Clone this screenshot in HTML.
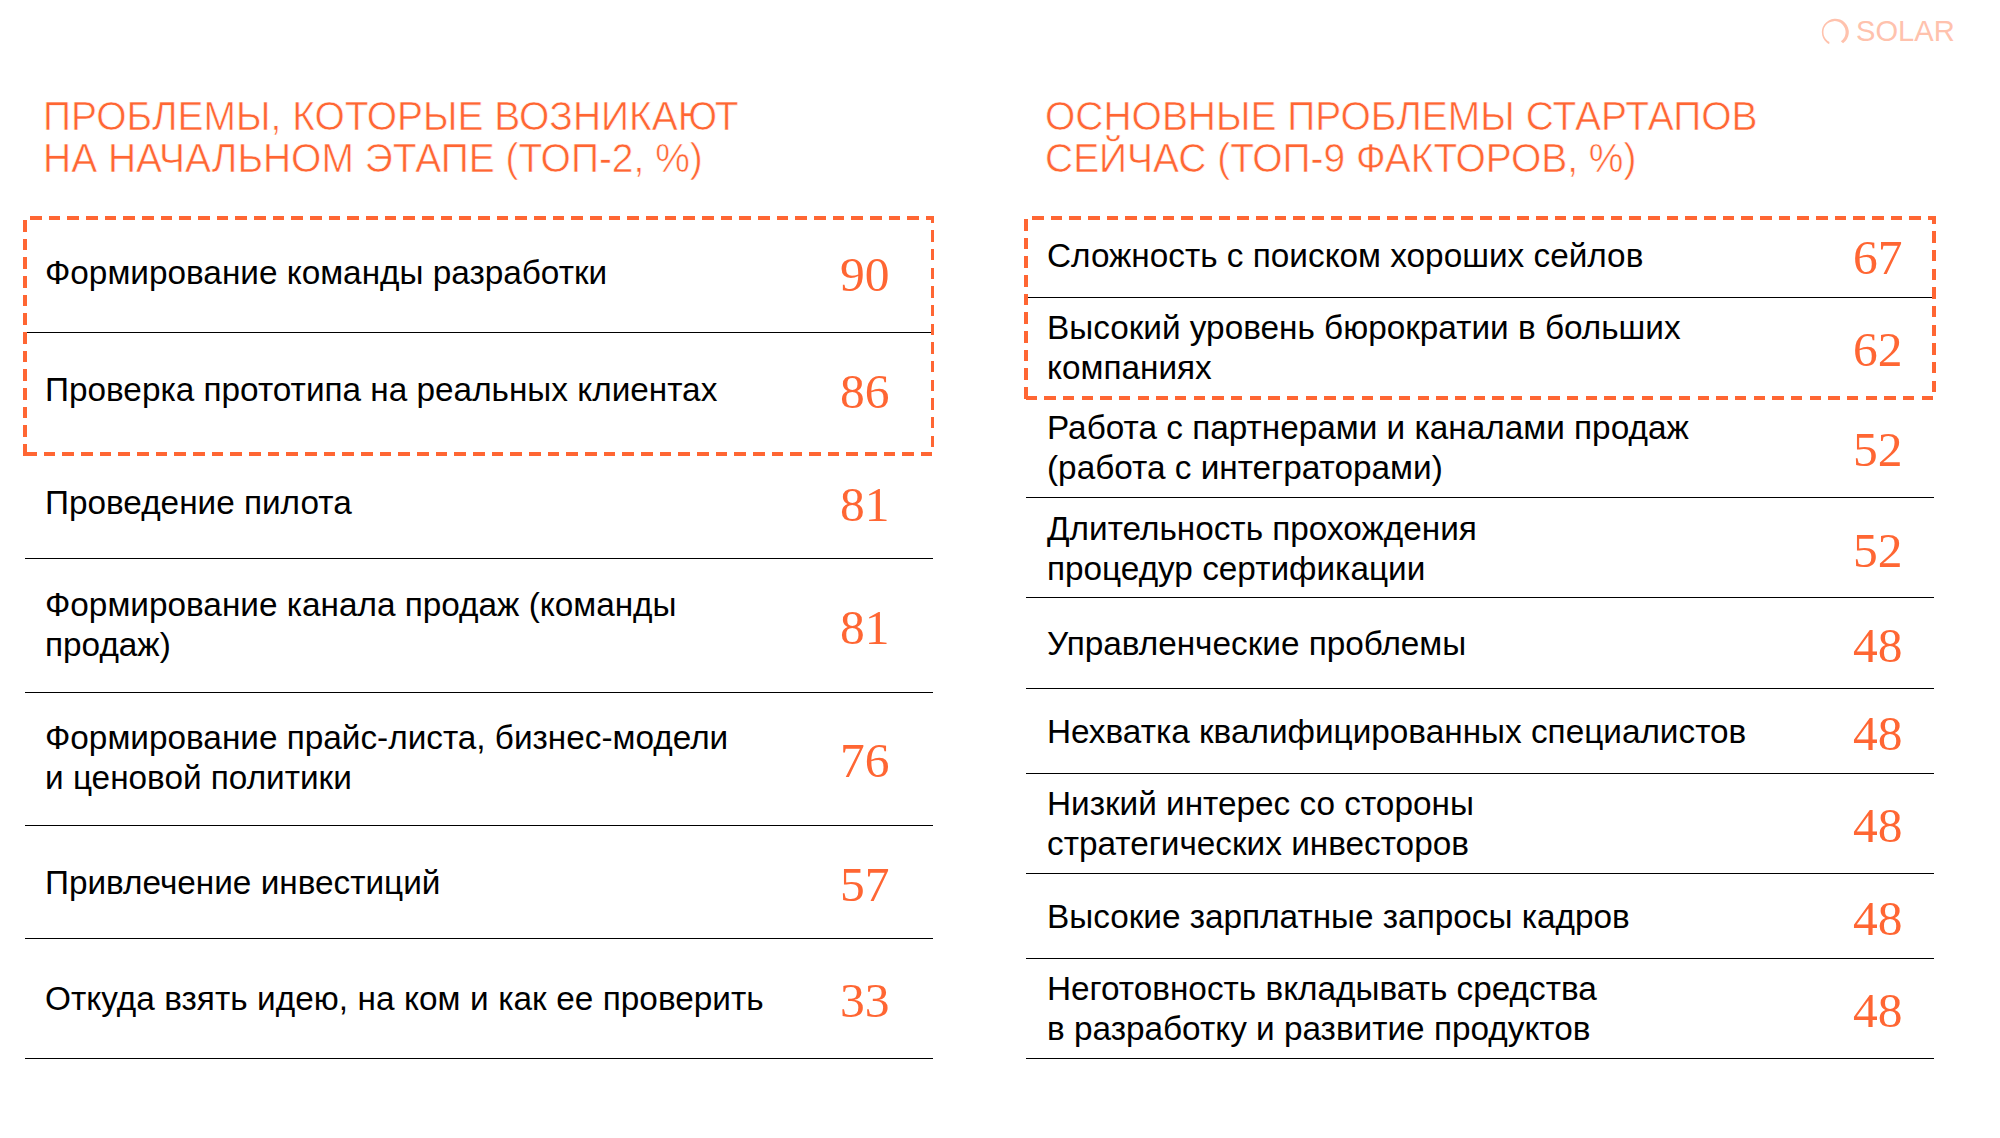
<!DOCTYPE html>
<html><head><meta charset="utf-8"><style>
html,body{margin:0;padding:0;background:#fff;width:2000px;height:1138px;overflow:hidden;position:relative}
.t,.ti,.n,.sol{position:absolute;white-space:nowrap}
.t{font-family:"Liberation Sans",sans-serif;font-size:33.333px;line-height:40px;color:#000}
.ti{font-family:"Liberation Sans",sans-serif;font-size:40px;line-height:42px;color:#FF6633;-webkit-text-stroke:0.6px #fff;transform:scaleX(0.974);transform-origin:0 0}
.n{font-family:"Liberation Serif",serif;font-size:49.5px;line-height:49.5px;color:#FF6633}
.ln{position:absolute;background:#000}
.d{position:absolute;background:#FF6633}
.sol{font-family:"Liberation Sans",sans-serif;font-size:30px;line-height:36px;color:#FFC2AD;transform:scaleX(0.97);transform-origin:0 0}
</style></head><body>
<div class="ti" style="left:42.8px;top:94.74px;">ПРОБЛЕМЫ, КОТОРЫЕ ВОЗНИКАЮТ<br>НА НАЧАЛЬНОМ ЭТАПЕ (ТОП-2, %)</div>
<div class="ti" style="left:1044.8px;top:94.74px;">ОСНОВНЫЕ ПРОБЛЕМЫ СТАРТАПОВ<br>СЕЙЧАС (ТОП-9 ФАКТОРОВ, %)</div>
<div class="t" style="left:45px;top:253.45px;">Формирование команды разработки</div>
<div class="n" style="left:840px;top:249.54px">90</div>
<div class="t" style="left:45px;top:370.45px;">Проверка прототипа на реальных клиентах</div>
<div class="n" style="left:840px;top:366.54px">86</div>
<div class="t" style="left:45px;top:483.45px;">Проведение пилота</div>
<div class="n" style="left:840px;top:479.54px">81</div>
<div class="t" style="left:45px;top:585.45px;">Формирование канала продаж (команды<br>продаж)</div>
<div class="n" style="left:840px;top:602.54px">81</div>
<div class="t" style="left:45px;top:718.45px;">Формирование прайс-листа, бизнес-модели<br>и ценовой политики</div>
<div class="n" style="left:840px;top:735.54px">76</div>
<div class="t" style="left:45px;top:863.45px;">Привлечение инвестиций</div>
<div class="n" style="left:840px;top:859.54px">57</div>
<div class="t" style="left:45px;top:979.45px;word-spacing:0.3px">Откуда взять идею, на ком и как ее проверить</div>
<div class="n" style="left:840px;top:975.54px">33</div>
<div class="ln" style="left:25px;top:331.75px;width:908px;height:1.5px"></div>
<div class="ln" style="left:25px;top:557.55px;width:908px;height:1.5px"></div>
<div class="ln" style="left:25px;top:691.65px;width:908px;height:1.5px"></div>
<div class="ln" style="left:25px;top:824.55px;width:908px;height:1.5px"></div>
<div class="ln" style="left:25px;top:937.65px;width:908px;height:1.5px"></div>
<div class="ln" style="left:25px;top:1057.55px;width:908px;height:1.5px"></div>
<div class="t" style="left:1047px;top:236.45px;">Сложность с поиском хороших сейлов</div>
<div class="n" style="left:1853px;top:232.54px">67</div>
<div class="t" style="left:1047px;top:308.45px;">Высокий уровень бюрократии в больших<br>компаниях</div>
<div class="n" style="left:1853px;top:324.54px">62</div>
<div class="t" style="left:1047px;top:408.45px;">Работа с партнерами и каналами продаж<br>(работа с интеграторами)</div>
<div class="n" style="left:1853px;top:424.54px">52</div>
<div class="t" style="left:1047px;top:509.45px;">Длительность прохождения<br>процедур сертификации</div>
<div class="n" style="left:1853px;top:525.54px">52</div>
<div class="t" style="left:1047px;top:624.45px;">Управленческие проблемы</div>
<div class="n" style="left:1853px;top:620.54px">48</div>
<div class="t" style="left:1047px;top:712.45px;">Нехватка квалифицированных специалистов</div>
<div class="n" style="left:1853px;top:708.54px">48</div>
<div class="t" style="left:1047px;top:784.45px;">Низкий интерес со стороны<br>стратегических инвесторов</div>
<div class="n" style="left:1853px;top:800.54px">48</div>
<div class="t" style="left:1047px;top:897.45px;">Высокие зарплатные запросы кадров</div>
<div class="n" style="left:1853px;top:893.54px">48</div>
<div class="t" style="left:1047px;top:969.45px;">Неготовность вкладывать средства<br>в разработку и развитие продуктов</div>
<div class="n" style="left:1853px;top:985.54px">48</div>
<div class="ln" style="left:1026px;top:296.75px;width:908px;height:1.5px"></div>
<div class="ln" style="left:1026px;top:496.75px;width:908px;height:1.5px"></div>
<div class="ln" style="left:1026px;top:596.75px;width:908px;height:1.5px"></div>
<div class="ln" style="left:1026px;top:687.75px;width:908px;height:1.5px"></div>
<div class="ln" style="left:1026px;top:772.75px;width:908px;height:1.5px"></div>
<div class="ln" style="left:1026px;top:872.95px;width:908px;height:1.5px"></div>
<div class="ln" style="left:1026px;top:957.75px;width:908px;height:1.5px"></div>
<div class="ln" style="left:1026px;top:1057.85px;width:908px;height:1.5px"></div>
<div class="d" style="left:30.00px;top:216.00px;width:11.50px;height:3.60px"></div>
<div class="d" style="left:48.67px;top:216.00px;width:11.50px;height:3.60px"></div>
<div class="d" style="left:67.33px;top:216.00px;width:11.50px;height:3.60px"></div>
<div class="d" style="left:86.00px;top:216.00px;width:11.50px;height:3.60px"></div>
<div class="d" style="left:104.67px;top:216.00px;width:11.50px;height:3.60px"></div>
<div class="d" style="left:123.34px;top:216.00px;width:11.50px;height:3.60px"></div>
<div class="d" style="left:142.00px;top:216.00px;width:11.50px;height:3.60px"></div>
<div class="d" style="left:160.67px;top:216.00px;width:11.50px;height:3.60px"></div>
<div class="d" style="left:179.34px;top:216.00px;width:11.50px;height:3.60px"></div>
<div class="d" style="left:198.00px;top:216.00px;width:11.50px;height:3.60px"></div>
<div class="d" style="left:216.67px;top:216.00px;width:11.50px;height:3.60px"></div>
<div class="d" style="left:235.34px;top:216.00px;width:11.50px;height:3.60px"></div>
<div class="d" style="left:254.00px;top:216.00px;width:11.50px;height:3.60px"></div>
<div class="d" style="left:272.67px;top:216.00px;width:11.50px;height:3.60px"></div>
<div class="d" style="left:291.34px;top:216.00px;width:11.50px;height:3.60px"></div>
<div class="d" style="left:310.01px;top:216.00px;width:11.50px;height:3.60px"></div>
<div class="d" style="left:328.67px;top:216.00px;width:11.50px;height:3.60px"></div>
<div class="d" style="left:347.34px;top:216.00px;width:11.50px;height:3.60px"></div>
<div class="d" style="left:366.01px;top:216.00px;width:11.50px;height:3.60px"></div>
<div class="d" style="left:384.67px;top:216.00px;width:11.50px;height:3.60px"></div>
<div class="d" style="left:403.34px;top:216.00px;width:11.50px;height:3.60px"></div>
<div class="d" style="left:422.01px;top:216.00px;width:11.50px;height:3.60px"></div>
<div class="d" style="left:440.67px;top:216.00px;width:11.50px;height:3.60px"></div>
<div class="d" style="left:459.34px;top:216.00px;width:11.50px;height:3.60px"></div>
<div class="d" style="left:478.01px;top:216.00px;width:11.50px;height:3.60px"></div>
<div class="d" style="left:496.68px;top:216.00px;width:11.50px;height:3.60px"></div>
<div class="d" style="left:515.34px;top:216.00px;width:11.50px;height:3.60px"></div>
<div class="d" style="left:534.01px;top:216.00px;width:11.50px;height:3.60px"></div>
<div class="d" style="left:552.68px;top:216.00px;width:11.50px;height:3.60px"></div>
<div class="d" style="left:571.34px;top:216.00px;width:11.50px;height:3.60px"></div>
<div class="d" style="left:590.01px;top:216.00px;width:11.50px;height:3.60px"></div>
<div class="d" style="left:608.68px;top:216.00px;width:11.50px;height:3.60px"></div>
<div class="d" style="left:627.34px;top:216.00px;width:11.50px;height:3.60px"></div>
<div class="d" style="left:646.01px;top:216.00px;width:11.50px;height:3.60px"></div>
<div class="d" style="left:664.68px;top:216.00px;width:11.50px;height:3.60px"></div>
<div class="d" style="left:683.35px;top:216.00px;width:11.50px;height:3.60px"></div>
<div class="d" style="left:702.01px;top:216.00px;width:11.50px;height:3.60px"></div>
<div class="d" style="left:720.68px;top:216.00px;width:11.50px;height:3.60px"></div>
<div class="d" style="left:739.35px;top:216.00px;width:11.50px;height:3.60px"></div>
<div class="d" style="left:758.01px;top:216.00px;width:11.50px;height:3.60px"></div>
<div class="d" style="left:776.68px;top:216.00px;width:11.50px;height:3.60px"></div>
<div class="d" style="left:795.35px;top:216.00px;width:11.50px;height:3.60px"></div>
<div class="d" style="left:814.01px;top:216.00px;width:11.50px;height:3.60px"></div>
<div class="d" style="left:832.68px;top:216.00px;width:11.50px;height:3.60px"></div>
<div class="d" style="left:851.35px;top:216.00px;width:11.50px;height:3.60px"></div>
<div class="d" style="left:870.02px;top:216.00px;width:11.50px;height:3.60px"></div>
<div class="d" style="left:888.68px;top:216.00px;width:11.50px;height:3.60px"></div>
<div class="d" style="left:907.35px;top:216.00px;width:11.50px;height:3.60px"></div>
<div class="d" style="left:926.02px;top:216.00px;width:8.48px;height:3.60px"></div>
<div class="d" style="left:930.90px;top:216.00px;width:3.60px;height:7.03px"></div>
<div class="d" style="left:930.90px;top:230.20px;width:3.60px;height:11.50px"></div>
<div class="d" style="left:930.90px;top:248.87px;width:3.60px;height:11.50px"></div>
<div class="d" style="left:930.90px;top:267.53px;width:3.60px;height:11.50px"></div>
<div class="d" style="left:930.90px;top:286.20px;width:3.60px;height:11.50px"></div>
<div class="d" style="left:930.90px;top:304.87px;width:3.60px;height:11.50px"></div>
<div class="d" style="left:930.90px;top:323.54px;width:3.60px;height:11.50px"></div>
<div class="d" style="left:930.90px;top:342.20px;width:3.60px;height:11.50px"></div>
<div class="d" style="left:930.90px;top:360.87px;width:3.60px;height:11.50px"></div>
<div class="d" style="left:930.90px;top:379.54px;width:3.60px;height:11.50px"></div>
<div class="d" style="left:930.90px;top:398.20px;width:3.60px;height:11.50px"></div>
<div class="d" style="left:930.90px;top:416.87px;width:3.60px;height:11.50px"></div>
<div class="d" style="left:930.90px;top:435.54px;width:3.60px;height:11.50px"></div>
<div class="d" style="left:25.00px;top:452.40px;width:11.50px;height:3.60px"></div>
<div class="d" style="left:43.67px;top:452.40px;width:11.50px;height:3.60px"></div>
<div class="d" style="left:62.33px;top:452.40px;width:11.50px;height:3.60px"></div>
<div class="d" style="left:81.00px;top:452.40px;width:11.50px;height:3.60px"></div>
<div class="d" style="left:99.67px;top:452.40px;width:11.50px;height:3.60px"></div>
<div class="d" style="left:118.34px;top:452.40px;width:11.50px;height:3.60px"></div>
<div class="d" style="left:137.00px;top:452.40px;width:11.50px;height:3.60px"></div>
<div class="d" style="left:155.67px;top:452.40px;width:11.50px;height:3.60px"></div>
<div class="d" style="left:174.34px;top:452.40px;width:11.50px;height:3.60px"></div>
<div class="d" style="left:193.00px;top:452.40px;width:11.50px;height:3.60px"></div>
<div class="d" style="left:211.67px;top:452.40px;width:11.50px;height:3.60px"></div>
<div class="d" style="left:230.34px;top:452.40px;width:11.50px;height:3.60px"></div>
<div class="d" style="left:249.00px;top:452.40px;width:11.50px;height:3.60px"></div>
<div class="d" style="left:267.67px;top:452.40px;width:11.50px;height:3.60px"></div>
<div class="d" style="left:286.34px;top:452.40px;width:11.50px;height:3.60px"></div>
<div class="d" style="left:305.01px;top:452.40px;width:11.50px;height:3.60px"></div>
<div class="d" style="left:323.67px;top:452.40px;width:11.50px;height:3.60px"></div>
<div class="d" style="left:342.34px;top:452.40px;width:11.50px;height:3.60px"></div>
<div class="d" style="left:361.01px;top:452.40px;width:11.50px;height:3.60px"></div>
<div class="d" style="left:379.67px;top:452.40px;width:11.50px;height:3.60px"></div>
<div class="d" style="left:398.34px;top:452.40px;width:11.50px;height:3.60px"></div>
<div class="d" style="left:417.01px;top:452.40px;width:11.50px;height:3.60px"></div>
<div class="d" style="left:435.67px;top:452.40px;width:11.50px;height:3.60px"></div>
<div class="d" style="left:454.34px;top:452.40px;width:11.50px;height:3.60px"></div>
<div class="d" style="left:473.01px;top:452.40px;width:11.50px;height:3.60px"></div>
<div class="d" style="left:491.68px;top:452.40px;width:11.50px;height:3.60px"></div>
<div class="d" style="left:510.34px;top:452.40px;width:11.50px;height:3.60px"></div>
<div class="d" style="left:529.01px;top:452.40px;width:11.50px;height:3.60px"></div>
<div class="d" style="left:547.68px;top:452.40px;width:11.50px;height:3.60px"></div>
<div class="d" style="left:566.34px;top:452.40px;width:11.50px;height:3.60px"></div>
<div class="d" style="left:585.01px;top:452.40px;width:11.50px;height:3.60px"></div>
<div class="d" style="left:603.68px;top:452.40px;width:11.50px;height:3.60px"></div>
<div class="d" style="left:622.34px;top:452.40px;width:11.50px;height:3.60px"></div>
<div class="d" style="left:641.01px;top:452.40px;width:11.50px;height:3.60px"></div>
<div class="d" style="left:659.68px;top:452.40px;width:11.50px;height:3.60px"></div>
<div class="d" style="left:678.35px;top:452.40px;width:11.50px;height:3.60px"></div>
<div class="d" style="left:697.01px;top:452.40px;width:11.50px;height:3.60px"></div>
<div class="d" style="left:715.68px;top:452.40px;width:11.50px;height:3.60px"></div>
<div class="d" style="left:734.35px;top:452.40px;width:11.50px;height:3.60px"></div>
<div class="d" style="left:753.01px;top:452.40px;width:11.50px;height:3.60px"></div>
<div class="d" style="left:771.68px;top:452.40px;width:11.50px;height:3.60px"></div>
<div class="d" style="left:790.35px;top:452.40px;width:11.50px;height:3.60px"></div>
<div class="d" style="left:809.01px;top:452.40px;width:11.50px;height:3.60px"></div>
<div class="d" style="left:827.68px;top:452.40px;width:11.50px;height:3.60px"></div>
<div class="d" style="left:846.35px;top:452.40px;width:11.50px;height:3.60px"></div>
<div class="d" style="left:865.02px;top:452.40px;width:11.50px;height:3.60px"></div>
<div class="d" style="left:883.68px;top:452.40px;width:11.50px;height:3.60px"></div>
<div class="d" style="left:902.35px;top:452.40px;width:11.50px;height:3.60px"></div>
<div class="d" style="left:921.02px;top:452.40px;width:11.48px;height:3.60px"></div>
<div class="d" style="left:23.00px;top:220.00px;width:3.60px;height:11.50px"></div>
<div class="d" style="left:23.00px;top:238.67px;width:3.60px;height:11.50px"></div>
<div class="d" style="left:23.00px;top:257.33px;width:3.60px;height:11.50px"></div>
<div class="d" style="left:23.00px;top:276.00px;width:3.60px;height:11.50px"></div>
<div class="d" style="left:23.00px;top:294.67px;width:3.60px;height:11.50px"></div>
<div class="d" style="left:23.00px;top:313.34px;width:3.60px;height:11.50px"></div>
<div class="d" style="left:23.00px;top:332.00px;width:3.60px;height:11.50px"></div>
<div class="d" style="left:23.00px;top:350.67px;width:3.60px;height:11.50px"></div>
<div class="d" style="left:23.00px;top:369.34px;width:3.60px;height:11.50px"></div>
<div class="d" style="left:23.00px;top:388.00px;width:3.60px;height:11.50px"></div>
<div class="d" style="left:23.00px;top:406.67px;width:3.60px;height:11.50px"></div>
<div class="d" style="left:23.00px;top:425.34px;width:3.60px;height:11.50px"></div>
<div class="d" style="left:23.00px;top:444.00px;width:3.60px;height:11.50px"></div>
<div class="d" style="left:1032.00px;top:216.00px;width:11.50px;height:3.60px"></div>
<div class="d" style="left:1050.67px;top:216.00px;width:11.50px;height:3.60px"></div>
<div class="d" style="left:1069.33px;top:216.00px;width:11.50px;height:3.60px"></div>
<div class="d" style="left:1088.00px;top:216.00px;width:11.50px;height:3.60px"></div>
<div class="d" style="left:1106.67px;top:216.00px;width:11.50px;height:3.60px"></div>
<div class="d" style="left:1125.33px;top:216.00px;width:11.50px;height:3.60px"></div>
<div class="d" style="left:1144.00px;top:216.00px;width:11.50px;height:3.60px"></div>
<div class="d" style="left:1162.67px;top:216.00px;width:11.50px;height:3.60px"></div>
<div class="d" style="left:1181.34px;top:216.00px;width:11.50px;height:3.60px"></div>
<div class="d" style="left:1200.00px;top:216.00px;width:11.50px;height:3.60px"></div>
<div class="d" style="left:1218.67px;top:216.00px;width:11.50px;height:3.60px"></div>
<div class="d" style="left:1237.34px;top:216.00px;width:11.50px;height:3.60px"></div>
<div class="d" style="left:1256.00px;top:216.00px;width:11.50px;height:3.60px"></div>
<div class="d" style="left:1274.67px;top:216.00px;width:11.50px;height:3.60px"></div>
<div class="d" style="left:1293.34px;top:216.00px;width:11.50px;height:3.60px"></div>
<div class="d" style="left:1312.00px;top:216.00px;width:11.50px;height:3.60px"></div>
<div class="d" style="left:1330.67px;top:216.00px;width:11.50px;height:3.60px"></div>
<div class="d" style="left:1349.34px;top:216.00px;width:11.50px;height:3.60px"></div>
<div class="d" style="left:1368.01px;top:216.00px;width:11.50px;height:3.60px"></div>
<div class="d" style="left:1386.67px;top:216.00px;width:11.50px;height:3.60px"></div>
<div class="d" style="left:1405.34px;top:216.00px;width:11.50px;height:3.60px"></div>
<div class="d" style="left:1424.01px;top:216.00px;width:11.50px;height:3.60px"></div>
<div class="d" style="left:1442.67px;top:216.00px;width:11.50px;height:3.60px"></div>
<div class="d" style="left:1461.34px;top:216.00px;width:11.50px;height:3.60px"></div>
<div class="d" style="left:1480.01px;top:216.00px;width:11.50px;height:3.60px"></div>
<div class="d" style="left:1498.67px;top:216.00px;width:11.50px;height:3.60px"></div>
<div class="d" style="left:1517.34px;top:216.00px;width:11.50px;height:3.60px"></div>
<div class="d" style="left:1536.01px;top:216.00px;width:11.50px;height:3.60px"></div>
<div class="d" style="left:1554.68px;top:216.00px;width:11.50px;height:3.60px"></div>
<div class="d" style="left:1573.34px;top:216.00px;width:11.50px;height:3.60px"></div>
<div class="d" style="left:1592.01px;top:216.00px;width:11.50px;height:3.60px"></div>
<div class="d" style="left:1610.68px;top:216.00px;width:11.50px;height:3.60px"></div>
<div class="d" style="left:1629.34px;top:216.00px;width:11.50px;height:3.60px"></div>
<div class="d" style="left:1648.01px;top:216.00px;width:11.50px;height:3.60px"></div>
<div class="d" style="left:1666.68px;top:216.00px;width:11.50px;height:3.60px"></div>
<div class="d" style="left:1685.34px;top:216.00px;width:11.50px;height:3.60px"></div>
<div class="d" style="left:1704.01px;top:216.00px;width:11.50px;height:3.60px"></div>
<div class="d" style="left:1722.68px;top:216.00px;width:11.50px;height:3.60px"></div>
<div class="d" style="left:1741.35px;top:216.00px;width:11.50px;height:3.60px"></div>
<div class="d" style="left:1760.01px;top:216.00px;width:11.50px;height:3.60px"></div>
<div class="d" style="left:1778.68px;top:216.00px;width:11.50px;height:3.60px"></div>
<div class="d" style="left:1797.35px;top:216.00px;width:11.50px;height:3.60px"></div>
<div class="d" style="left:1816.01px;top:216.00px;width:11.50px;height:3.60px"></div>
<div class="d" style="left:1834.68px;top:216.00px;width:11.50px;height:3.60px"></div>
<div class="d" style="left:1853.35px;top:216.00px;width:11.50px;height:3.60px"></div>
<div class="d" style="left:1872.01px;top:216.00px;width:11.50px;height:3.60px"></div>
<div class="d" style="left:1890.68px;top:216.00px;width:11.50px;height:3.60px"></div>
<div class="d" style="left:1909.35px;top:216.00px;width:11.50px;height:3.60px"></div>
<div class="d" style="left:1928.02px;top:216.00px;width:7.98px;height:3.60px"></div>
<div class="d" style="left:1932.40px;top:216.00px;width:3.60px;height:8.03px"></div>
<div class="d" style="left:1932.40px;top:231.20px;width:3.60px;height:11.50px"></div>
<div class="d" style="left:1932.40px;top:249.87px;width:3.60px;height:11.50px"></div>
<div class="d" style="left:1932.40px;top:268.53px;width:3.60px;height:11.50px"></div>
<div class="d" style="left:1932.40px;top:287.20px;width:3.60px;height:11.50px"></div>
<div class="d" style="left:1932.40px;top:305.87px;width:3.60px;height:11.50px"></div>
<div class="d" style="left:1932.40px;top:324.54px;width:3.60px;height:11.50px"></div>
<div class="d" style="left:1932.40px;top:343.20px;width:3.60px;height:11.50px"></div>
<div class="d" style="left:1932.40px;top:361.87px;width:3.60px;height:11.50px"></div>
<div class="d" style="left:1932.40px;top:380.54px;width:3.60px;height:11.50px"></div>
<div class="d" style="left:1025.50px;top:396.40px;width:11.50px;height:3.60px"></div>
<div class="d" style="left:1044.17px;top:396.40px;width:11.50px;height:3.60px"></div>
<div class="d" style="left:1062.83px;top:396.40px;width:11.50px;height:3.60px"></div>
<div class="d" style="left:1081.50px;top:396.40px;width:11.50px;height:3.60px"></div>
<div class="d" style="left:1100.17px;top:396.40px;width:11.50px;height:3.60px"></div>
<div class="d" style="left:1118.83px;top:396.40px;width:11.50px;height:3.60px"></div>
<div class="d" style="left:1137.50px;top:396.40px;width:11.50px;height:3.60px"></div>
<div class="d" style="left:1156.17px;top:396.40px;width:11.50px;height:3.60px"></div>
<div class="d" style="left:1174.84px;top:396.40px;width:11.50px;height:3.60px"></div>
<div class="d" style="left:1193.50px;top:396.40px;width:11.50px;height:3.60px"></div>
<div class="d" style="left:1212.17px;top:396.40px;width:11.50px;height:3.60px"></div>
<div class="d" style="left:1230.84px;top:396.40px;width:11.50px;height:3.60px"></div>
<div class="d" style="left:1249.50px;top:396.40px;width:11.50px;height:3.60px"></div>
<div class="d" style="left:1268.17px;top:396.40px;width:11.50px;height:3.60px"></div>
<div class="d" style="left:1286.84px;top:396.40px;width:11.50px;height:3.60px"></div>
<div class="d" style="left:1305.50px;top:396.40px;width:11.50px;height:3.60px"></div>
<div class="d" style="left:1324.17px;top:396.40px;width:11.50px;height:3.60px"></div>
<div class="d" style="left:1342.84px;top:396.40px;width:11.50px;height:3.60px"></div>
<div class="d" style="left:1361.51px;top:396.40px;width:11.50px;height:3.60px"></div>
<div class="d" style="left:1380.17px;top:396.40px;width:11.50px;height:3.60px"></div>
<div class="d" style="left:1398.84px;top:396.40px;width:11.50px;height:3.60px"></div>
<div class="d" style="left:1417.51px;top:396.40px;width:11.50px;height:3.60px"></div>
<div class="d" style="left:1436.17px;top:396.40px;width:11.50px;height:3.60px"></div>
<div class="d" style="left:1454.84px;top:396.40px;width:11.50px;height:3.60px"></div>
<div class="d" style="left:1473.51px;top:396.40px;width:11.50px;height:3.60px"></div>
<div class="d" style="left:1492.17px;top:396.40px;width:11.50px;height:3.60px"></div>
<div class="d" style="left:1510.84px;top:396.40px;width:11.50px;height:3.60px"></div>
<div class="d" style="left:1529.51px;top:396.40px;width:11.50px;height:3.60px"></div>
<div class="d" style="left:1548.18px;top:396.40px;width:11.50px;height:3.60px"></div>
<div class="d" style="left:1566.84px;top:396.40px;width:11.50px;height:3.60px"></div>
<div class="d" style="left:1585.51px;top:396.40px;width:11.50px;height:3.60px"></div>
<div class="d" style="left:1604.18px;top:396.40px;width:11.50px;height:3.60px"></div>
<div class="d" style="left:1622.84px;top:396.40px;width:11.50px;height:3.60px"></div>
<div class="d" style="left:1641.51px;top:396.40px;width:11.50px;height:3.60px"></div>
<div class="d" style="left:1660.18px;top:396.40px;width:11.50px;height:3.60px"></div>
<div class="d" style="left:1678.84px;top:396.40px;width:11.50px;height:3.60px"></div>
<div class="d" style="left:1697.51px;top:396.40px;width:11.50px;height:3.60px"></div>
<div class="d" style="left:1716.18px;top:396.40px;width:11.50px;height:3.60px"></div>
<div class="d" style="left:1734.85px;top:396.40px;width:11.50px;height:3.60px"></div>
<div class="d" style="left:1753.51px;top:396.40px;width:11.50px;height:3.60px"></div>
<div class="d" style="left:1772.18px;top:396.40px;width:11.50px;height:3.60px"></div>
<div class="d" style="left:1790.85px;top:396.40px;width:11.50px;height:3.60px"></div>
<div class="d" style="left:1809.51px;top:396.40px;width:11.50px;height:3.60px"></div>
<div class="d" style="left:1828.18px;top:396.40px;width:11.50px;height:3.60px"></div>
<div class="d" style="left:1846.85px;top:396.40px;width:11.50px;height:3.60px"></div>
<div class="d" style="left:1865.51px;top:396.40px;width:11.50px;height:3.60px"></div>
<div class="d" style="left:1884.18px;top:396.40px;width:11.50px;height:3.60px"></div>
<div class="d" style="left:1902.85px;top:396.40px;width:11.50px;height:3.60px"></div>
<div class="d" style="left:1921.52px;top:396.40px;width:11.50px;height:3.60px"></div>
<div class="d" style="left:1024.00px;top:219.00px;width:3.60px;height:11.50px"></div>
<div class="d" style="left:1024.00px;top:237.67px;width:3.60px;height:11.50px"></div>
<div class="d" style="left:1024.00px;top:256.33px;width:3.60px;height:11.50px"></div>
<div class="d" style="left:1024.00px;top:275.00px;width:3.60px;height:11.50px"></div>
<div class="d" style="left:1024.00px;top:293.67px;width:3.60px;height:11.50px"></div>
<div class="d" style="left:1024.00px;top:312.34px;width:3.60px;height:11.50px"></div>
<div class="d" style="left:1024.00px;top:331.00px;width:3.60px;height:11.50px"></div>
<div class="d" style="left:1024.00px;top:349.67px;width:3.60px;height:11.50px"></div>
<div class="d" style="left:1024.00px;top:368.34px;width:3.60px;height:11.50px"></div>
<div class="d" style="left:1024.00px;top:387.00px;width:3.60px;height:11.50px"></div>
<svg class="logo" width="200" height="70" viewBox="1780 0 200 70" style="position:absolute;left:1780px;top:0.5px">
<path d="M1829.17 43.23 A13.5 13.5 0 1 1 1843.05 42.26 L1840.87 40.29 A11.1 11.1 0 1 0 1829.46 41.09 Z" fill="#FFC2AD"/>
</svg>
<div class="sol" style="left:1856px;top:13px">SOLAR</div>
</body></html>
